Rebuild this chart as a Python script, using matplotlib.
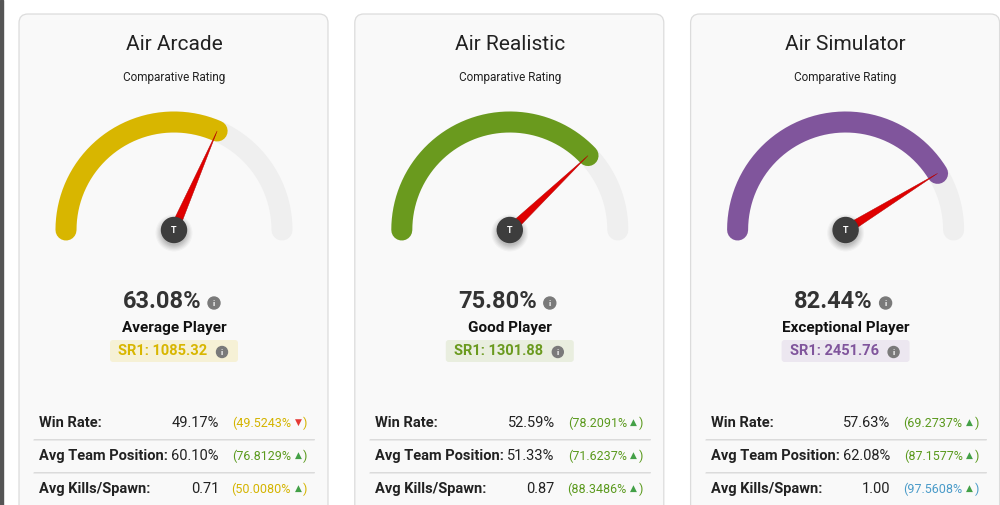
import numpy as np
import matplotlib
matplotlib.use("Agg")
import matplotlib.pyplot as plt
from matplotlib.patches import FancyBboxPatch, Circle, Polygon

plt.rcParams['font.family'] = ['Roboto', 'DejaVu Sans']

# ---- data ----
modes = ['Air Arcade', 'Air Realistic', 'Air Simulator']
ratings = [63.08, 75.80, 82.44]
tiers = ['Average Player', 'Good Player', 'Exceptional Player']
sr1 = [1085.32, 1301.88, 2451.76]

stat_labels = ['Win Rate:', 'Avg Team Position:', 'Avg Kills/Spawn:']
win_rate = [49.17, 52.59, 57.63]
team_pos = [60.10, 51.33, 62.08]
kills_spawn = [0.71, 0.87, 1.00]
win_rate_pct = [49.5243, 78.2091, 69.2737]
team_pos_pct = [76.8129, 71.6237, 87.1577]
kills_spawn_pct = [50.0080, 88.3486, 97.5608]

gauge_colors = ['#d8b600', '#6a9a1e', '#80559c']
sr_bg_colors = ['#f6f1d6', '#e9eedf', '#ece7f0']
TRACK = '#efefef'
NEEDLE = '#e00000'
TXT = '#333333'


def pct_color(p):
    # percentile text colour: gold / green / blue
    if p < 60:
        return '#d4b400'
    if p < 90:
        return '#5b9a1e'
    return '#4a9bc9'


def info_icon(ax, x, y, r=6):
    ax.add_patch(Circle((x, y), r, color='#7a7a7a', zorder=6))
    ax.text(x, y + 0.5, 'i', color='white', fontsize=6, fontweight='bold',
            ha='center', va='center', zorder=7)


fig = plt.figure(figsize=(10, 5.05), dpi=100)
ax = fig.add_axes([0, 0, 1, 1])
ax.set_xlim(0, 1000)
ax.set_ylim(505, 0)
ax.axis('off')

# dark page edge on the left
ax.add_patch(plt.Rectangle((0, 0), 2.5, 505, color='#555555', zorder=0))

R = 108          # arc radius (px)
LW = 21 * 0.72   # arc thickness in points
card_w = 309
step = 335.8

for i, mode in enumerate(modes):
    x0 = 19 + i * step
    cx = x0 + 155
    cy = 230

    # card
    ax.add_patch(FancyBboxPatch((x0, 14), card_w, 530,
                                boxstyle='round,pad=0,rounding_size=9',
                                facecolor='#f9f9f9', edgecolor='#dcdcdc',
                                linewidth=0.9, zorder=1))

    ax.text(cx, 45, mode, fontsize=15, color='#222222',
            ha='center', va='center', zorder=5)
    ax.text(cx, 78, 'Comparative Rating', fontsize=8.5, color='#222222',
            ha='center', va='center', zorder=5)

    # gauge track + value arc
    th = np.linspace(np.pi, 0, 200)
    ax.plot(cx + R * np.cos(th), cy - R * np.sin(th), color=TRACK, lw=LW,
            solid_capstyle='round', zorder=2)
    end = np.pi * (1 - ratings[i] / 100)
    th = np.linspace(np.pi, end, 200)
    ax.plot(cx + R * np.cos(th), cy - R * np.sin(th), color=gauge_colors[i],
            lw=LW, solid_capstyle='round', zorder=3)

    # needle
    tip = (cx + R * np.cos(end), cy - R * np.sin(end))
    px, py = -np.sin(end) * 4.5, -np.cos(end) * 4.5
    ax.add_patch(Polygon([tip, (cx + px, cy + py), (cx - px, cy - py)],
                         closed=True, facecolor=NEEDLE, edgecolor='#b00000',
                         linewidth=0.3, zorder=4))

    # knob with soft shadow
    for k, a in zip(range(6), [0.05, 0.05, 0.05, 0.04, 0.04, 0.03]):
        ax.add_patch(Circle((cx, cy + 3), 12.5 + 1.2 * k, color='black',
                            alpha=a, linewidth=0, zorder=4))
    ax.add_patch(Circle((cx, cy), 12.5, color='#3d3d3d', zorder=5))
    ax.text(cx, cy + 0.5, 'T', color='white', fontsize=6.5, fontweight='bold',
            ha='center', va='center', zorder=6)

    # rating
    ax.text(cx - 12, 302, f'{ratings[i]:.2f}%', fontsize=17, fontweight='bold',
            color=TXT, ha='center', va='center', zorder=5)
    info_icon(ax, cx + 40, 303)
    ax.text(cx, 328, tiers[i], fontsize=11, fontweight='bold', color='#111111',
            ha='center', va='center', zorder=5)

    # SR1 badge
    ax.add_patch(FancyBboxPatch((cx - 64, 340), 128, 22,
                                boxstyle='round,pad=0,rounding_size=3',
                                facecolor=sr_bg_colors[i], edgecolor='none',
                                zorder=4))
    ax.text(cx - 11, 351, f'SR1: {sr1[i]:.2f}', fontsize=10.5, fontweight='bold',
            color=gauge_colors[i], ha='center', va='center', zorder=5)
    info_icon(ax, cx + 48, 352, r=5.5)

    # stats rows
    vals = [f'{win_rate[i]:.2f}%', f'{team_pos[i]:.2f}%', f'{kills_spawn[i]:.2f}']
    pcts = [win_rate_pct[i], team_pos_pct[i], kills_spawn_pct[i]]
    for j, lab in enumerate(stat_labels):
        ry = 423 + j * 33
        ax.text(x0 + 20, ry, lab, fontsize=10.5, fontweight='bold', color='#222222',
                ha='left', va='center', zorder=5)
        ax.text(x0 + 200, ry, vals[j], fontsize=10.5, color='#222222',
                ha='right', va='center', zorder=5)
        c = pct_color(pcts[j])
        up = pcts[j] >= 50
        ax.text(x0 + 288, ry, ')', fontsize=9, color=c,
                ha='right', va='center', zorder=5)
        ax.text(x0 + 279, ry - 0.5, '▲' if up else '▼', fontsize=6.5,
                color='#43a047' if up else '#e53935',
                family=['DejaVu Sans'], ha='center', va='center', zorder=5)
        ax.text(x0 + 272, ry, f'({pcts[j]:.4f}%', fontsize=9, color=c,
                ha='right', va='center', zorder=5)
        # separator with faint shadow
        sy = ry + 16
        ax.plot([x0 + 15, x0 + 295], [sy + 1.2, sy + 1.2], color='#e6e6e6',
                lw=1.2, solid_capstyle='round', zorder=3)
        ax.plot([x0 + 15, x0 + 295], [sy, sy], color='#d9d9d9', lw=0.6, zorder=3)

fig.savefig('out.png', dpi=100, facecolor='white')
